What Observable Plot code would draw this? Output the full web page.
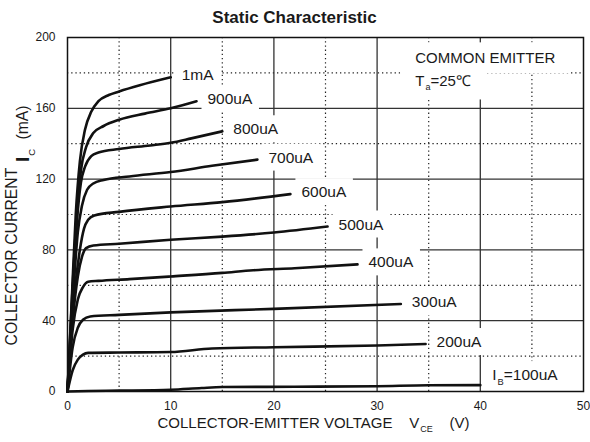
<!DOCTYPE html>
<html>
<head>
<meta charset="utf-8">
<script src="https://cdn.jsdelivr.net/npm/d3@7"></script>
<script src="https://cdn.jsdelivr.net/npm/@observablehq/plot@0.6"></script>
<style>
  html, body { margin: 0; padding: 0; background: #fff; }
  #chart { width: 590px; height: 442px; }
  #chart text { white-space: pre; }
</style>
</head>
<body>
<div id="chart"></div>
<script>
// ---- data (V_CE in volts, I_C in mA) ----
const title = "Static Characteristic";
const xLabel = "COLLECTOR-EMITTER VOLTAGE    V_CE    (V)";
const yLabelText = "COLLECTOR CURRENT";
const yLabelSymbol = "I_C";
const yLabelUnit = "(mA)";
const noteLines = ["COMMON EMITTER", "T_a=25℃"];
const xTicks = [0, 10, 20, 30, 40, 50];
const yTicks = [0, 40, 80, 120, 160, 200];
const xGridSolid = [10, 20, 30, 40];
const xGridDotted = [5, 15, 25, 35, 45];
const yGridSolid = [40, 80, 120, 160];
const yGridDotted = [20, 60, 100, 140, 180];

const seriesNames = ["1mA", "900uA", "800uA", "700uA", "600uA", "500uA", "400uA", "300uA", "200uA", "I_B=100uA"];

const ib1000 = [[0,0],[0.4,50],[0.8,100],[1.2,130],[1.7,148],[2.3,158],[3,164],[4,167.5],[5,169.5],[7,173],[10,177.5]];
const ib900  = [[0,0],[0.4,48],[0.85,95],[1.3,125],[1.8,138],[2.5,146],[3.5,150],[5,153.5],[7.5,157],[10,160],[12.5,164]];
const ib800  = [[0,0],[0.45,50],[0.9,95],[1.3,118],[1.7,127],[2.3,133],[3,135],[5,137],[8,139],[10,140.5],[12,143],[15,147]];
const ib700  = [[0,0],[0.5,50],[1,90],[1.4,105],[1.9,114],[2.5,117.5],[3.5,119.5],[6,121.5],[10,124],[14,127.5],[18.4,131]];
const ib600  = [[0,0],[0.6,50],[1.2,80],[1.6,92],[2,97],[2.6,99.5],[5,101.5],[10,104.5],[15,107],[21.6,111.5]];
const ib500  = [[0,0],[0.5,40],[1,65],[1.4,76],[1.8,81],[2.5,82.5],[5,83.5],[10,85.7],[15,87.5],[20,89.8],[25.2,93.2]];
const ib400  = [[0,0],[0.5,35],[1,52],[1.5,59],[2,62],[3,62.5],[6,63.5],[10,65],[15,67],[18,68.5],[22,69.6],[28.1,71.8]];
const ib300  = [[0,0],[0.5,25],[1,36],[1.5,40.5],[2.2,42.4],[5,43.3],[10,44.7],[20,46.7],[32.3,49.4]];
const ib200  = [[0,0],[0.5,12],[1,18],[1.5,20.8],[2,21.8],[5,22],[10,22.3],[14,24.3],[20,25],[30,26],[34.7,26.8]];
const ib100  = [[0,0],[2,0.3],[5,0.5],[10,1],[13,2],[15,2.5],[22,2.7],[30,3],[35,3.5],[40,3.6]];

const seriesValues = [ib1000, ib900, ib800, ib700, ib600, ib500, ib400, ib300, ib200, ib100];

// ---- tables built from the arrays ----
const rows = seriesValues.flatMap((s, i) => s.map(([v, c]) => ({series: seriesNames[i], v, c})));
const ends = seriesValues.map((s, i) => ({series: seriesNames[i], v: s[s.length - 1][0], c: s[s.length - 1][1]}));
const labelledEnds = ends.slice(0, 9);
const lastEnd = ends[9];

const font = "'Liberation Sans', Arial, Helvetica, sans-serif";
const ink = "#1a1a1a";

const chart = Plot.plot({
  width: 590,
  height: 442,
  marginLeft: 67,
  marginRight: 7,
  marginTop: 37,
  marginBottom: 51,
  style: {fontFamily: font, fontSize: "12px", color: ink, background: "white", overflow: "visible"},
  x: {domain: [0, 50], ticks: xTicks},
  y: {domain: [0, 200], ticks: yTicks},
  marks: [
    // grid
    Plot.ruleX(xGridDotted, {stroke: "#222", strokeWidth: 1.2, strokeDasharray: "1.3,2.9"}),
    Plot.ruleY(yGridDotted, {stroke: "#222", strokeWidth: 1.2, strokeDasharray: "1.3,2.9"}),
    Plot.ruleX(xGridSolid, {stroke: "#333", strokeWidth: 1.3}),
    Plot.ruleY(yGridSolid, {stroke: "#333", strokeWidth: 1.3}),
    // note
    Plot.text([noteLines[0]], {x: 33.7, y: 188.1, text: d => d, textAnchor: "start", fontSize: 15, fill: ink}),
    Plot.text([noteLines[1]], {x: 33.7, y: 175.5, text: d => d, textAnchor: "start", fontSize: 15, fill: ink}),
    // curves
    Plot.line(rows, {x: "v", y: "c", z: "series", stroke: "#111", strokeWidth: 2.6, curve: "monotone-x"}),
    // curve labels
    Plot.text(labelledEnds, {x: "v", y: "c", text: "series", dx: 11, dy: -2, textAnchor: "start", fontSize: 15.5, fill: ink}),
    Plot.text([lastEnd], {x: "v", y: "c", text: "series", dx: 12, dy: -10, textAnchor: "start", fontSize: 15.5, fill: ink}),
    // frame
    Plot.frame({stroke: "#111", strokeWidth: 1.5}),
    // axes
    Plot.axisX({ticks: xTicks, tickSize: 0, tickPadding: 10, fontSize: 12, label: null}),
    Plot.axisY({ticks: yTicks, tickSize: 0, tickPadding: 12, fontSize: 12, label: null}),
    // title
    Plot.text([title], {frameAnchor: "top-left", dx: 227, dy: -27, text: d => d, textAnchor: "middle", fontSize: 17, fontWeight: "bold", fill: ink}),
    // x axis label
    Plot.text([xLabel], {frameAnchor: "bottom-left", dx: 90, dy: 36, text: d => d, textAnchor: "start", fontSize: 15, fill: ink}),
    // y axis label (rotated)
    Plot.text([yLabelText], {frameAnchor: "bottom-left", dx: -51, dy: -46, rotate: -90, text: d => d, textAnchor: "start", fontSize: 15.8, fill: ink}),
    Plot.text([yLabelSymbol], {frameAnchor: "top-left", dx: -52, dy: 118, rotate: -90, text: d => d, textAnchor: "middle", fontSize: 19, fontWeight: "bold", fill: ink}),
    Plot.text([yLabelUnit], {frameAnchor: "top-left", dx: -51, dy: 85, rotate: -90, text: d => d, textAnchor: "middle", fontSize: 15.8, fill: ink})
  ]
});
document.getElementById("chart").appendChild(chart);

const NS = "http://www.w3.org/2000/svg";
// which texts sit on a white label box, and the box padding [x, y]
const boxed = new Map([...seriesNames.map(s => [s, [6, 5]]), ...noteLines.map(s => [s, [15, 7]])]);
const texts = [...chart.querySelectorAll("text")];
texts.forEach(el => { if (boxed.has(el.textContent)) el.__pad = boxed.get(el.textContent); });

// turn "X_sub" into a real subscript (tspans)
texts.forEach(el => {
  if (el.querySelector("tspan")) return;
  const m = /^(.*?)_([A-Za-z]+)(.*)$/.exec(el.textContent);
  if (!m) return;
  const fs = parseFloat(getComputedStyle(el).fontSize) || 15;
  const shift = fs * 0.32;
  const subSize = Math.min(9.5, fs * 0.6);
  el.textContent = "";
  const a = document.createElementNS(NS, "tspan");
  a.textContent = m[1];
  const b = document.createElementNS(NS, "tspan");
  b.textContent = m[2];
  b.setAttribute("font-size", subSize);
  b.setAttribute("font-weight", "normal");
  b.setAttribute("dy", shift);
  b.setAttribute("dx", 1);
  const c = document.createElementNS(NS, "tspan");
  c.textContent = m[3];
  c.setAttribute("dy", -shift);
  el.append(a, b, c);
});

// white label boxes behind the boxed texts (hide grid lines, as in the original)
texts.forEach(el => {
  if (!el.__pad) return;
  const [px, py] = el.__pad;
  const bb = el.getBBox();
  const r = document.createElementNS(NS, "rect");
  r.setAttribute("x", bb.x - px);
  r.setAttribute("y", bb.y - py);
  r.setAttribute("width", bb.width + 2 * px);
  r.setAttribute("height", bb.height + 2 * py);
  r.setAttribute("fill", "white");
  r.setAttribute("stroke", "none");
  const t = el.getAttribute("transform");
  if (t) r.setAttribute("transform", t);
  el.parentNode.insertBefore(r, el);
});
// keep the second note line's box under the first line's text
</script>
</body>
</html>
